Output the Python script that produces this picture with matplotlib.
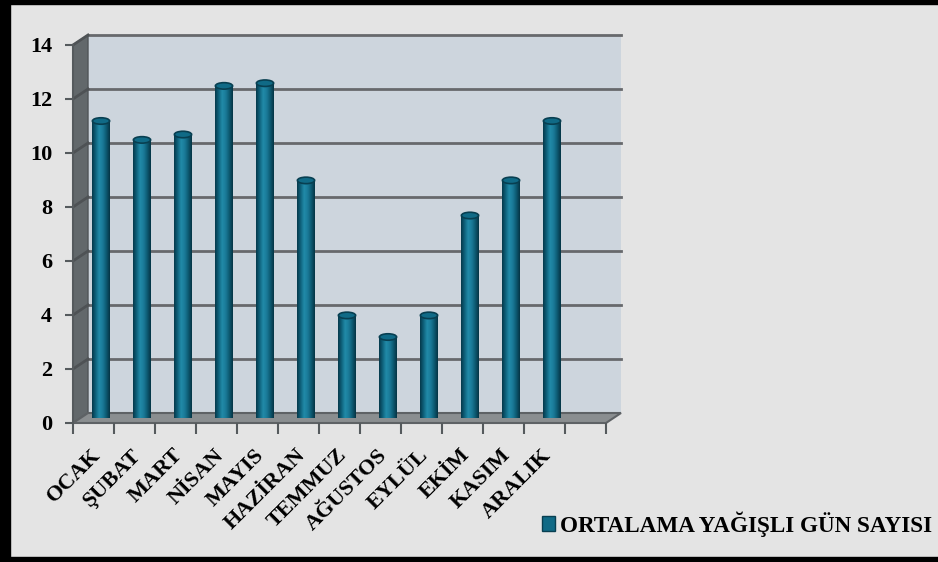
import numpy as np
import matplotlib
matplotlib.use('Agg')
import matplotlib.pyplot as plt
from matplotlib.patches import Polygon, Ellipse, Rectangle, Patch
from matplotlib.lines import Line2D
from matplotlib.colors import LinearSegmentedColormap
import matplotlib.transforms as mtransforms

# data
months = ['OCAK', 'ŞUBAT', 'MART', 'NİSAN', 'MAYIS', 'HAZİRAN',
          'TEMMUZ', 'AĞUSTOS', 'EYLÜL', 'EKİM', 'KASIM', 'ARALIK']
rainy_days = [11.0, 10.3, 10.5, 12.3, 12.4, 8.8, 3.8, 3.0, 3.8, 7.5, 8.8, 11.0]
y_ticks = [0, 2, 4, 6, 8, 10, 12, 14]
series_name = 'ORTALAMA YAĞIŞLI GÜN SAYISI'
n_slots = 13  # excel leaves one empty category slot at the end

plt.rcParams['font.family'] = ['Liberation Serif', 'DejaVu Serif']
plt.rcParams['font.weight'] = 'bold'

W, H = 938, 562
fig = plt.figure(figsize=(W / 100, H / 100), dpi=100, facecolor='#e4e4e4')

# front face of the plot box in pixels, plus depth offset for the 3d look
left, right, top, bottom = 73, 606, 45, 423
dx, dy = 15, 10


def box(sx, sy):
    return [(left + sx) / W, 1 - (bottom - sy) / H,
            (right - left) / W, (bottom - top) / H]


ax_back = fig.add_axes(box(dx, dy), zorder=0)
ax_mid = fig.add_axes(box(dx / 2, dy / 2), zorder=2)
ax_front = fig.add_axes(box(0, 0), zorder=3)
x0, x1 = -0.5, n_slots - 0.5
for ax in (ax_back, ax_mid, ax_front):
    ax.set_xlim(x0, x1)
    ax.set_ylim(0, 14)

# back wall with gridlines
ax_back.set_facecolor('#cdd5dd')
for s in ax_back.spines.values():
    s.set_visible(False)
ax_back.set_xticks([])
ax_back.set_yticks([])
for v in y_ticks[1:]:
    ax_back.axhline(v, color='#67696c', lw=2, clip_on=False)

# side wall and floor, joining front and back axes
to_fig = fig.transFigure.inverted()


def corner(ax, x, y):
    return to_fig.transform(ax.transData.transform((x, y)))


side = [corner(ax_front, x0, 0), corner(ax_front, x0, 14),
        corner(ax_back, x0, 14), corner(ax_back, x0, 0)]
floor = [corner(ax_front, x0, 0), corner(ax_front, x1, 0),
         corner(ax_back, x1, 0), corner(ax_back, x0, 0)]
fig.add_artist(Polygon(side, closed=True, transform=fig.transFigure,
                       fc='#62686b', ec='#505558', lw=1, zorder=1))
for v in y_ticks[1:]:
    a, b = corner(ax_front, x0, v), corner(ax_back, x0, v)
    fig.add_artist(Line2D([a[0], b[0]], [a[1], b[1]], transform=fig.transFigure,
                          color='#4e5255', lw=2, zorder=1))
fig.add_artist(Polygon(floor, closed=True, transform=fig.transFigure,
                       fc='#8a8e90', ec='#5e6265', lw=1.5, zorder=1))

# cylinder bars
xs = np.arange(len(months))
bar_w = 0.42
bars = ax_mid.bar(xs, rainy_days, width=bar_w, color='none', edgecolor='none')
cyl = LinearSegmentedColormap.from_list(
    'cyl', ['#05394b', '#0f627c', '#218ba9', '#1a7a98', '#0d5a72', '#053444'])
grad = np.linspace(0, 1, 64).reshape(1, -1)
ell_h = 0.24
for b in bars:
    bx, bw, bh = b.get_x(), b.get_width(), b.get_height()
    cx = bx + bw / 2
    ax_mid.add_patch(Ellipse((cx, 0), bw, ell_h, fc='#0c536a', ec='none', zorder=1))
    im = ax_mid.imshow(grad, extent=[bx, bx + bw, 0, bh], aspect='auto',
                       cmap=cyl, zorder=2, interpolation='bilinear')
    im.set_clip_path(b)
    ax_mid.add_patch(Ellipse((cx, bh), bw, ell_h, fc='#106a86', ec='#083f51',
                             lw=1.2, zorder=3))
ax_mid.set_xlim(x0, x1)
ax_mid.set_ylim(0, 14)
ax_mid.axis('off')

# front axis: y ticks and category labels
ax_front.patch.set_visible(False)
for k in ('top', 'right', 'bottom'):
    ax_front.spines[k].set_visible(False)
ax_front.spines['left'].set_color('#555a5d')
ax_front.spines['left'].set_linewidth(1.5)
ax_front.set_yticks(y_ticks)
ax_front.tick_params(axis='y', length=6, width=1.5, color='#555a5d', pad=9,
                     labelsize=16)
ax_front.set_xticks(np.arange(x0, x1 + 0.5, 1), [''] * (n_slots + 1))
ax_front.tick_params(axis='x', which='major', length=8, width=1.5, color='#555a5d')
ax_front.set_xticks(xs, months, minor=True)
ax_front.tick_params(axis='x', which='minor', length=0, pad=16, labelsize=16)
shift = mtransforms.ScaledTranslation(-3 / 100, 0, fig.dpi_scale_trans)
for lbl in ax_front.get_xticklabels(minor=True):
    lbl.set_rotation(45)
    lbl.set_ha('right')
    lbl.set_va('top')
    lbl.set_rotation_mode('anchor')
    lbl.set_transform(lbl.get_transform() + shift)

# legend
fig.legend(handles=[Patch(fc='#106a86', ec='#083f51', label=series_name)],
           loc='center left', bbox_to_anchor=(542 / W, 1 - 524 / H),
           frameon=False, fontsize=16.7, handlelength=0.56, handleheight=0.56,
           handletextpad=0.2, borderpad=0, borderaxespad=0)

# dark frame round the chart (left, top, bottom)
fig.add_artist(Rectangle((0, 0), 10 / W, 1, transform=fig.transFigure,
                         color='black', zorder=5))
fig.add_artist(Rectangle((0, 1 - 4 / H), 1, 4 / H, transform=fig.transFigure,
                         color='black', zorder=5))
fig.add_artist(Rectangle((0, 0), 1, 5 / H, transform=fig.transFigure,
                         color='black', zorder=5))

fig.savefig('out.png', dpi=100, facecolor=fig.get_facecolor())
